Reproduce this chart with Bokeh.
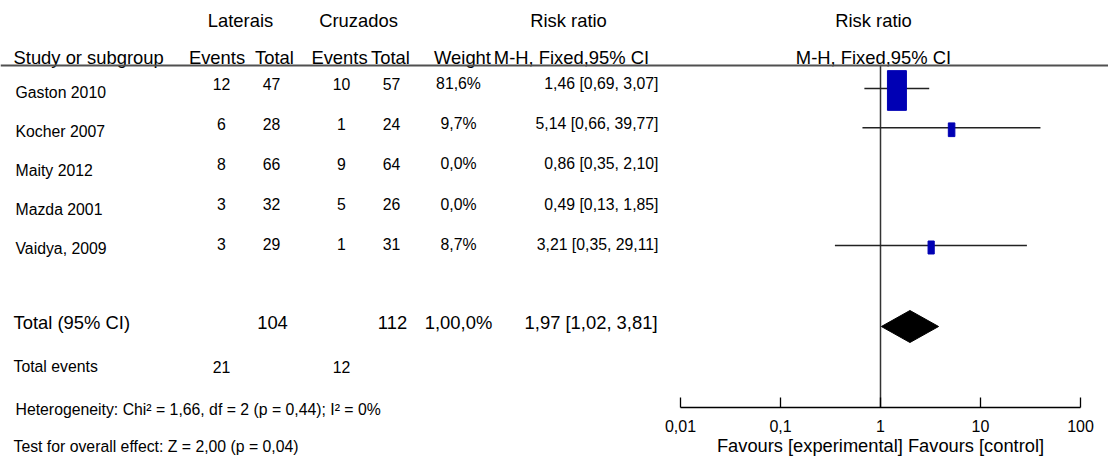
import math
from bokeh.plotting import figure
from bokeh.models import (Range1d, Span, FixedTicker, CustomJSTickFormatter, ColumnDataSource,
                          LogAxis, LogScale)
from bokeh.core.properties import value
from bokeh.embed import file_html
from bokeh.resources import INLINE

# ---------------- data ----------------
studies = ["Gaston 2010", "Kocher 2007", "Maity 2012", "Mazda 2001", "Vaidya, 2009"]
lat_events = [12, 6, 8, 3, 3]
lat_total = [47, 28, 66, 32, 29]
cru_events = [10, 1, 9, 5, 1]
cru_total = [57, 24, 64, 26, 31]
weights = [81.6, 9.7, 0.0, 0.0, 8.7]
rr = [1.46, 5.14, 0.86, 0.49, 3.21]
ci_lo = [0.69, 0.66, 0.35, 0.13, 0.35]
ci_hi = [3.07, 39.77, 2.10, 1.85, 29.11]

total_lat = 104
total_cru = 112
total_weight_label = "1,00,0%"
pooled_rr = 1.97
pooled_lo = 1.02
pooled_hi = 3.81
total_events_lat = 21
total_events_cru = 12

heterogeneity = "Heterogeneity: Chi\u00b2 = 1,66, df = 2 (p = 0,44); I\u00b2 = 0%"
overall = "Test for overall effect: Z = 2,00 (p = 0,04)"
axis_ticks = [0.01, 0.1, 1, 10, 100]
axis_title = "Favours [experimental] Favours [control]"

# ---------------- layout ----------------
FONT = value("Liberation Sans")
SMALL = value("15.8px")
BIG = value("18.4px")
BLUE = "#0000b4"

W = 1108
H = 456
HEADER_LINE_Y = 65
AXIS_Y = 407
PX_PER_DECADE = 100.0
ONE_X = 880.0          # pixel x of RR = 1


def fmt(v):
    return f"{v:.2f}".replace(".", ",")


def fmt_ci(e, lo, hi):
    return f"{fmt(e)} [{fmt(lo)}, {fmt(hi)}]"


n = len(studies)
num_y = [83 + 40.2 * i for i in range(n)]
name_y = [92 + 39.0 * i for i in range(n)]
forest_y = [88 + 39.25 * i for i in range(n)]
TOTAL_Y = 322
EVENTS_Y = 366
HET_Y = 409
OVERALL_Y = 446

p = figure(width=W, height=H, x_range=Range1d(0, W), y_range=Range1d(H, 0), min_border=0,
           x_axis_location=None, y_axis_location=None,
           toolbar_location=None, output_backend="svg")
p.grid.visible = False
p.outline_line_color = None
p.background_fill_color = "white"
p.border_fill_color = "white"

p.extra_x_ranges = {"forest": Range1d(10 ** ((0 - ONE_X) / PX_PER_DECADE),
                                      10 ** ((W - ONE_X) / PX_PER_DECADE))}
p.extra_x_scales = {"forest": LogScale()}


def txt(xs, ys, texts, size, align="center", **kw):
    p.text(x=xs, y=ys, text=texts, text_font=FONT, text_font_size=size,
           text_align=align, text_baseline="middle", text_color="black", **kw)


# headers
txt([240, 358, 568], [20, 20, 20], ["Laterais", "Cruzados", "Risk ratio"], BIG)
txt([13], [57], ["Study or subgroup"], BIG, "left")
txt([216.5, 274, 339, 390, 462, 571], [57] * 6,
    ["Events", "Total", "Events", "Total", "Weight", "M-H, Fixed,95% CI"], BIG)
txt([1, 1], [20, 57], ["Risk ratio", "M-H, Fixed,95% CI"], BIG, x_range_name="forest", x_offset=-7)
p.add_layout(Span(location=HEADER_LINE_Y, dimension="width", line_color="#505050", line_width=2))

# study rows
txt([15] * n, name_y, studies, SMALL, "left")
txt([221] * n, num_y, [str(v) for v in lat_events], SMALL)
txt([271] * n, num_y, [str(v) for v in lat_total], SMALL)
txt([341] * n, num_y, [str(v) for v in cru_events], SMALL)
txt([391] * n, num_y, [str(v) for v in cru_total], SMALL)
txt([458] * n, num_y, [f"{w:.1f}%".replace(".", ",") for w in weights], SMALL)
txt([658] * n, num_y, [fmt_ci(e, lo, hi) for e, lo, hi in zip(rr, ci_lo, ci_hi)], SMALL, "right")

# totals
txt([13], [TOTAL_Y], ["Total (95% CI)"], BIG, "left")
txt([272, 392, 458], [TOTAL_Y] * 3, [str(total_lat), str(total_cru), total_weight_label], BIG)
txt([657], [TOTAL_Y], [fmt_ci(pooled_rr, pooled_lo, pooled_hi)], BIG, "right")
txt([13], [EVENTS_Y], ["Total events"], SMALL, "left")
txt([221, 341], [EVENTS_Y] * 2, [str(total_events_lat), str(total_events_cru)], SMALL)
txt([15], [HET_Y], [heterogeneity], SMALL, "left")
txt([13], [OVERALL_Y], [overall], SMALL, "left")

# ---------------- forest ----------------
p.segment(x0=[1], y0=[HEADER_LINE_Y], x1=[1], y1=[AXIS_Y], line_color="#333333", line_width=1.5,
          x_range_name="forest")

idx = [i for i in range(n) if weights[i] > 0]
src = ColumnDataSource(dict(
    lo=[ci_lo[i] for i in idx], hi=[ci_hi[i] for i in idx], est=[rr[i] for i in idx],
    y=[forest_y[i] for i in idx], ysq=[forest_y[i] + 2 for i in idx],
    w=[2.1 * math.sqrt(weights[i]) for i in idx], h=[4.4 * math.sqrt(weights[i]) for i in idx],
))
p.segment(x0="lo", y0="y", x1="hi", y1="y", source=src, line_color="#222222", line_width=1.5,
          x_range_name="forest")
p.rect(x="est", y="ysq", width="w", height="h", width_units="screen", height_units="screen",
       source=src, fill_color=BLUE, line_color=BLUE, x_range_name="forest")

D_Y = 326
D_H = 16
p.patch(x=[pooled_lo, pooled_rr, pooled_hi, pooled_rr], y=[D_Y, D_Y - D_H, D_Y, D_Y + D_H],
        fill_color="black", line_color="black", x_range_name="forest")

ax = LogAxis(x_range_name="forest", fixed_location=AXIS_Y)
ax.ticker = FixedTicker(ticks=axis_ticks)
ax.formatter = CustomJSTickFormatter(code="return String(tick).replace('.', ',');")
ax.bounds = (axis_ticks[0], axis_ticks[-1])
ax.major_tick_in = 10
ax.major_tick_out = 0
ax.minor_tick_line_color = None
ax.axis_line_color = "black"
ax.axis_line_width = 1.3
ax.major_tick_line_color = "black"
ax.major_tick_line_width = 1.3
ax.major_label_text_font = "Liberation Sans"
ax.major_label_text_font_size = "16px"
ax.major_label_text_color = "black"
ax.major_label_standoff = 12
ax.axis_label = axis_title
ax.axis_label_text_font = "Liberation Sans"
ax.axis_label_text_font_size = "18.3px"
ax.axis_label_text_font_style = "normal"
ax.axis_label_text_color = "black"
ax.axis_label_standoff = 0
p.add_layout(ax, "below")

open("out.html", "w").write(file_html(p, INLINE))
